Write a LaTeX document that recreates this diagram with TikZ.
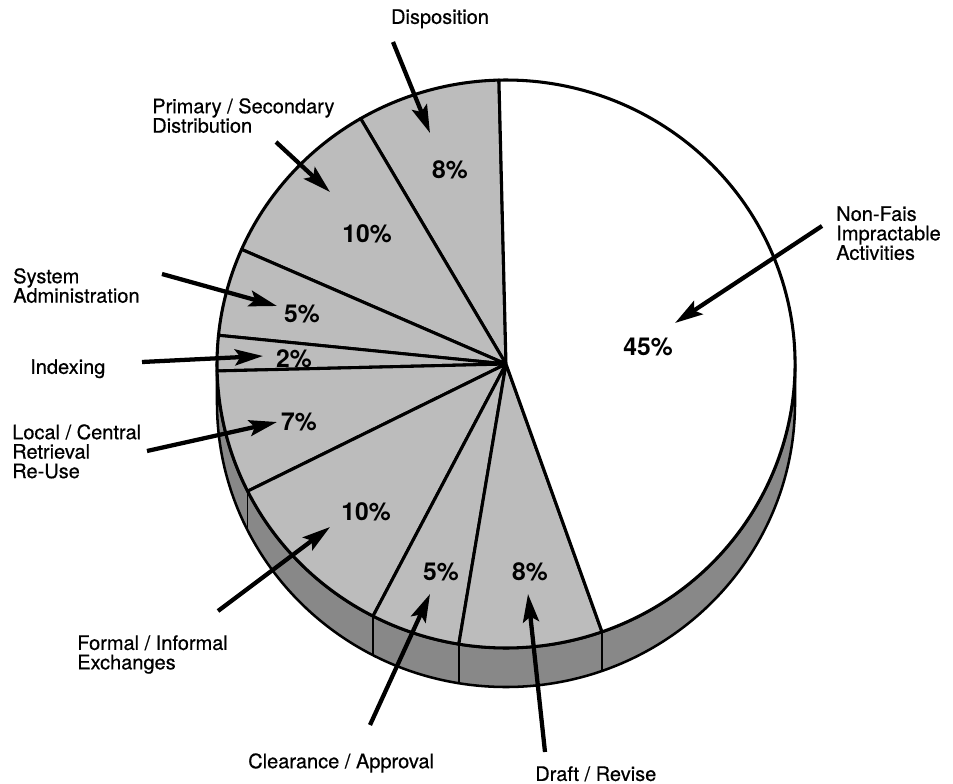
\documentclass[tikz,border=0pt]{standalone}
\usepackage{fontspec}
\setmainfont{TeX Gyre Heros}
\newfontfamily\labelfont[FakeBold=0.5]{TeX Gyre Heros}
\usetikzlibrary{arrows.meta,calc}
\definecolor{slicegray}{RGB}{188,188,188}
\definecolor{bandgray}{RGB}{136,136,136}
% one wedge of the top face: #1 start angle, #2 end angle (counter-clockwise on the page), #3 fill
\newcommand\drawwedge[3]{%
  \filldraw[edge, fill=#3] (C) -- ($(C)+(-#1:289 and 284)$)
    arc[start angle=-#1, end angle=-#2, x radius=289, y radius=284] -- cycle;}
\begin{document}
\begin{tikzpicture}[x=0.75pt, y=-0.75pt,
  edge/.style={line width=2.3pt, line join=round},
  rim/.style={line width=1.9pt, line join=round},
  divider/.style={line width=1.2pt},
  pointer/.style={line width=3.2pt, -{Stealth[length=21pt, width=12pt, inset=4pt]}},
  lbl/.style={font=\labelfont\fontsize{15}{14.6}\selectfont, align=left, anchor=north west, inner sep=0pt},
  pct/.style={font=\bfseries\fontsize{18.5}{20}\selectfont, inner sep=0pt}]
\useasboundingbox (0,0) rectangle (953,784);
\coordinate (C) at (506,364);

% side of the disc
\filldraw[rim, fill=bandgray] ($(C)+(-180:289 and 284)$) -- ++(0,39)
  arc[start angle=-180, end angle=-360, x radius=289, y radius=284] -- ++(0,-39)
  arc[start angle=-360, end angle=-180, x radius=289, y radius=284] -- cycle;
\foreach \a in {206.6,242.6,260.6,289.4}
  \draw[divider] ($(C)+(-\a:289 and 284)$) -- ++(0,39);

% top face
\drawwedge{91.4}{120.2}{slicegray}
\drawwedge{120.2}{156.2}{slicegray}
\drawwedge{156.2}{174.2}{slicegray}
\drawwedge{174.2}{181.4}{slicegray}
\drawwedge{181.4}{206.6}{slicegray}
\drawwedge{206.6}{242.6}{slicegray}
\drawwedge{242.6}{260.6}{slicegray}
\drawwedge{260.6}{289.4}{slicegray}
\drawwedge{289.4}{451.4}{white}

% percentages
\node[pct] (pDisp)  at (450,170) {8\%};
\node[pct] (pDist)  at (367,234) {10\%};
\node[pct] (pSys)   at (302,314) {5\%};
\node[pct] (pIdx)   at (294,359) {2\%};
\node[pct] (pRet)   at (299,422) {7\%};
\node[pct] (pExch)  at (366,512) {10\%};
\node[pct] (pClr)   at (441,572) {5\%};
\node[pct] (pDraft) at (530,572) {8\%};
\node[pct] (pNon)   at (648,347) {45\%};

% category labels
\node[lbl, anchor=north] (lDisp) at (440,9) {Disposition};
\node[lbl] (lDist)  at (152,98)  {Primary / Secondary\\Distribution};
\node[lbl] (lNon)   at (836,206) {Non-Fais\\Impractable\\Activities};
\node[lbl] (lSys)   at (13,268)  {System\\Administration};
\node[lbl] (lIdx)   at (30,359)  {Indexing};
\node[lbl] (lRet)   at (12,424)  {Local / Central\\Retrieval\\Re-Use};
\node[lbl] (lExch)  at (77,635)  {Formal / Informal\\Exchanges};
\node[lbl] (lClr)   at (248,753) {Clearance / Approval};
\node[lbl] (lDraft) at (535,766) {Draft / Revise};

% pointer ends
\coordinate (sDisp)  at (393,42);   \coordinate (tDisp)  at (430,133);
\coordinate (sDist)  at (276,142);  \coordinate (tDist)  at (330,192);
\coordinate (sNon)   at (822,226);  \coordinate (tNon)   at (675,323);
\coordinate (sSys)   at (162,274);  \coordinate (tSys)   at (277,306);
\coordinate (sIdx)   at (142,362);  \coordinate (tIdx)   at (263,356);
\coordinate (sRet)   at (147,451);  \coordinate (tRet)   at (277,422);
\coordinate (sExch)  at (218,611);  \coordinate (tExch)  at (330,527);
\coordinate (sClr)   at (370,725);  \coordinate (tClr)   at (430,594);
\coordinate (sDraft) at (545,752);  \coordinate (tDraft) at (528,594);

\foreach \k in {Disp,Dist,Non,Sys,Idx,Ret,Exch,Clr,Draft}
  \draw[pointer] (s\k) -- (t\k);
\end{tikzpicture}
\end{document}
